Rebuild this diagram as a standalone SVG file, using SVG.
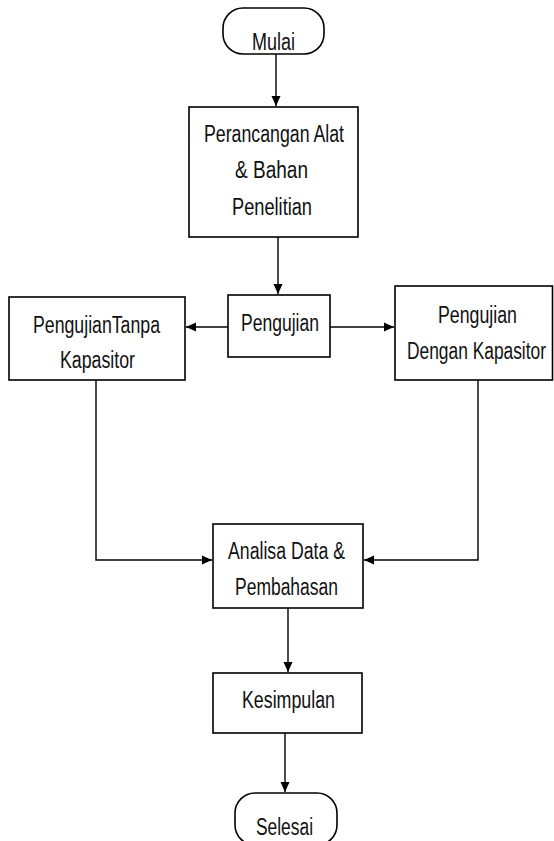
<svg xmlns="http://www.w3.org/2000/svg" width="554" height="841" viewBox="0 0 554 841">
<style>
.box{fill:#fff;stroke:#000;stroke-width:1.6}
.t{font-family:"Liberation Sans",Arial,sans-serif;font-size:23.5px;fill:#111}
.c{fill:none;stroke:#000;stroke-width:1.4}
</style>
<defs>
<marker id="ah" markerWidth="11" markerHeight="11" refX="10" refY="5.5" orient="auto" markerUnits="userSpaceOnUse">
<path d="M0,1 L10,5.5 L0,10 Z" fill="#000"/>
</marker>
</defs>
<rect width="554" height="841" fill="#fff"/>
<g id="connectors">
<path class="c" d="M276,54 V106" marker-end="url(#ah)"/>
<path class="c" d="M278,237 V294" marker-end="url(#ah)"/>
<path class="c" d="M228,327 H186" marker-end="url(#ah)"/>
<path class="c" d="M330,327 H394" marker-end="url(#ah)"/>
<path class="c" d="M96,380 V560 H212" marker-end="url(#ah)"/>
<path class="c" d="M478,380 V560 H364" marker-end="url(#ah)"/>
<path class="c" d="M288,608 V672" marker-end="url(#ah)"/>
<path class="c" d="M285,733 V792" marker-end="url(#ah)"/>
</g>
<g id="mulai">
<rect class="box" x="223" y="8" width="101" height="46" rx="20"/>
<text class="t" x="252" y="50" textLength="43" lengthAdjust="spacingAndGlyphs">Mulai</text>
</g>
<g id="perancangan">
<rect class="box" x="189" y="107" width="169" height="130"/>
<text class="t" x="204" y="142" textLength="140" lengthAdjust="spacingAndGlyphs">Perancangan Alat</text>
<text class="t" x="235" y="178" textLength="73" lengthAdjust="spacingAndGlyphs">&amp; Bahan</text>
<text class="t" x="232" y="215" textLength="80" lengthAdjust="spacingAndGlyphs">Penelitian</text>
</g>
<g id="pengujian">
<rect class="box" x="228" y="295" width="102" height="62"/>
<text class="t" x="241" y="331" textLength="78" lengthAdjust="spacingAndGlyphs">Pengujian</text>
</g>
<g id="tanpa">
<rect class="box" x="9" y="297" width="176" height="83"/>
<text class="t" x="33" y="333" textLength="127" lengthAdjust="spacingAndGlyphs">PengujianTanpa</text>
<text class="t" x="60" y="368" textLength="75" lengthAdjust="spacingAndGlyphs">Kapasitor</text>
</g>
<g id="dengan">
<rect class="box" x="395" y="286" width="157.5" height="94"/>
<text class="t" x="438" y="323" textLength="79" lengthAdjust="spacingAndGlyphs">Pengujian</text>
<text class="t" x="407" y="359" textLength="139" lengthAdjust="spacingAndGlyphs">Dengan Kapasitor</text>
</g>
<g id="analisa">
<rect class="box" x="213" y="524" width="150" height="84"/>
<text class="t" x="228" y="559" textLength="117" lengthAdjust="spacingAndGlyphs">Analisa Data &amp;</text>
<text class="t" x="235" y="595" textLength="103" lengthAdjust="spacingAndGlyphs">Pembahasan</text>
</g>
<g id="kesimpulan">
<rect class="box" x="213" y="673" width="149" height="60"/>
<text class="t" x="242" y="708" textLength="93" lengthAdjust="spacingAndGlyphs">Kesimpulan</text>
</g>
<g id="selesai">
<rect class="box" x="235" y="793" width="102" height="52" rx="20"/>
<text class="t" x="256" y="835" textLength="57" lengthAdjust="spacingAndGlyphs">Selesai</text>
</g>
</svg>
